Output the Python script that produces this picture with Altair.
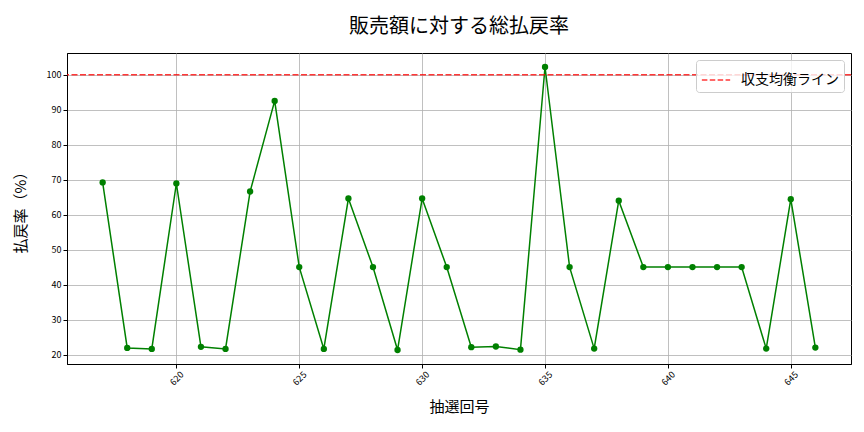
import altair as alt
import pandas as pd

draws = list(range(617, 647))
rates = [69.2, 21.9, 21.6, 68.9, 22.2, 21.6, 66.6, 92.5, 45.0, 21.6,
         64.6, 45.0, 21.3, 64.6, 45.0, 22.1, 22.3, 21.4, 102.2, 45.0,
         21.7, 64.0, 45.0, 45.0, 45.0, 45.0, 45.0, 21.7, 64.4, 22.0]
breakeven = 100
breakeven_label = "収支均衡ライン"
x_ticks = [620, 625, 630, 635, 640, 645]
y_ticks = [20, 30, 40, 50, 60, 70, 80, 90, 100]

df = pd.DataFrame({"draw": draws, "rate": rates})
ref = pd.DataFrame({"y": [breakeven], "label": [breakeven_label]})

FONT = "Noto Sans CJK JP"

x_scale = alt.Scale(domain=[615.55, 647.45], nice=False, zero=False)
y_scale = alt.Scale(domain=[17.3, 106.2], nice=False, zero=False)

x_axis = alt.Axis(values=x_ticks, title="抽選回号", labelAngle=-45, labelAlign="center",
                  labelBaseline="middle", labelPadding=10, labelFontSize=9,
                  titleFontSize=15, titleFontWeight="normal", titlePadding=13,
                  tickSize=4, grid=True, format="d", labelOverlap=False)
y_axis = alt.Axis(values=y_ticks, title="払戻率（%）", labelFontSize=9,
                  titleFontSize=15, titleFontWeight="normal", titlePadding=18,
                  tickSize=4, grid=True, labelOverlap=False)

line = alt.Chart(df).mark_line(color="green", strokeWidth=1.5, point=alt.OverlayMarkDef(color="green", size=40, filled=True, opacity=1)).encode(
    x=alt.X("draw:Q", scale=x_scale, axis=x_axis),
    y=alt.Y("rate:Q", scale=y_scale, axis=y_axis),
)

rule = alt.Chart(ref).mark_rule(strokeDash=[6, 2.5], strokeWidth=1.5, opacity=0.78).encode(
    y=alt.Y("y:Q", scale=y_scale, axis=y_axis),
    color=alt.Color("label:N", scale=alt.Scale(range=["red"]),
                    legend=alt.Legend(title=None, orient="top-right", symbolType="stroke",
                                      symbolDash=[5.5, 2.4], symbolStrokeWidth=1.5, symbolSize=800,
                                      symbolOpacity=0.78,
                                      labelFontSize=14, labelOffset=10,
                                      fillColor="rgba(255,255,255,0.8)",
                                      strokeColor="#cccccc", cornerRadius=3, padding=5,
                                      offset=7)),
)

chart = alt.layer(line, rule).properties(
    width=784, height=311,
    title=alt.TitleParams("販売額に対する総払戻率", fontSize=20, fontWeight="normal", offset=16, anchor="middle"),
    autosize=alt.AutoSizeParams(type="none"),
    padding={"left": 59, "top": 45, "right": 5, "bottom": 60},
).configure(font=FONT).configure_axis(
    gridColor="#b0b0b0", gridWidth=0.8, domainColor="black", tickColor="black",
    labelColor="black", titleColor="black", labelFont=FONT, titleFont=FONT,
).configure_view(stroke="black", strokeWidth=1).configure_legend(labelFont=FONT).configure_title(font=FONT, color="black")

chart.save("out.html", embed_options={"renderer": "svg", "actions": False})
